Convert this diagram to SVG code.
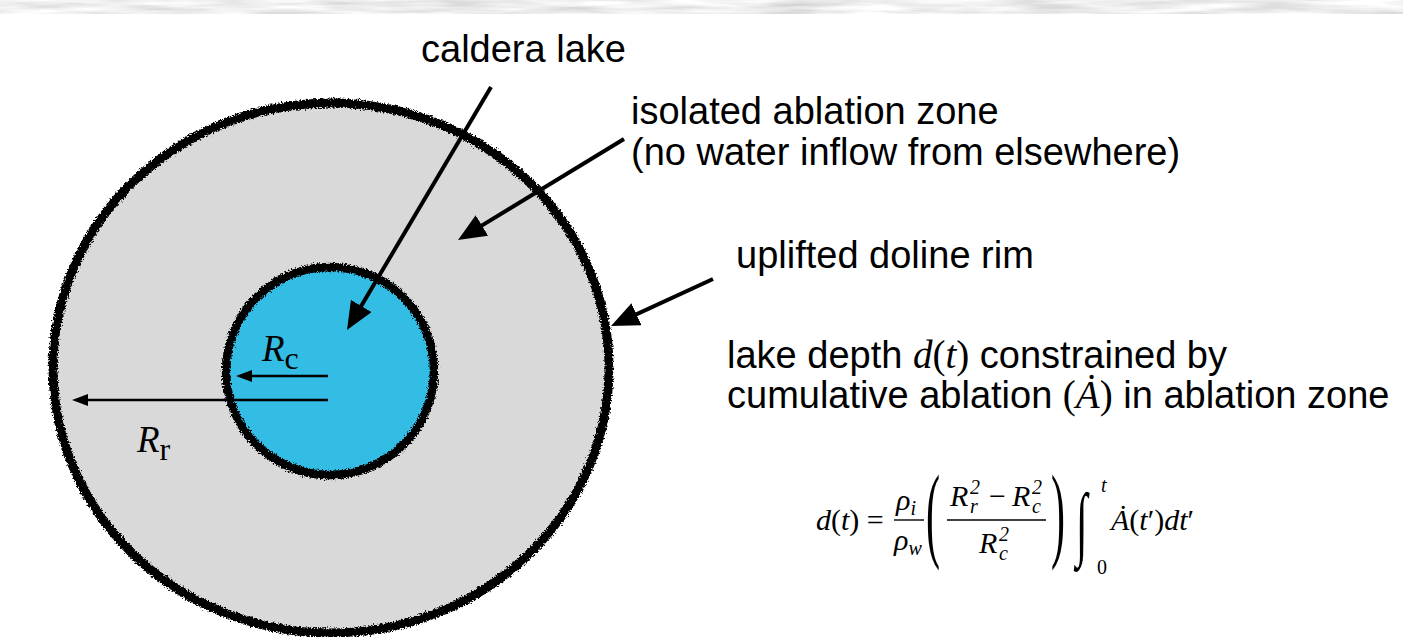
<svg xmlns="http://www.w3.org/2000/svg" width="1403" height="637" viewBox="0 0 1403 637">
<style>
.lbl{font-family:"Liberation Sans",Arial,sans-serif;font-size:38px;fill:#000}
.mi{font-family:"Liberation Serif","Times New Roman",serif;font-style:italic}
.mu{font-family:"Liberation Serif","Times New Roman",serif;font-style:normal}
.eq{font-family:"Liberation Serif","Times New Roman",serif;font-size:30px;fill:#000}
.sm{font-size:20px}
.big{stroke:#000;stroke-width:4;fill:none}
.thin{stroke:#000;stroke-width:2.6;fill:none}
</style>
<defs>
<filter id="rough" x="-5%" y="-5%" width="110%" height="110%">
<feTurbulence type="fractalNoise" baseFrequency="0.6" numOctaves="2" seed="4" result="n"/>
<feDisplacementMap in="SourceGraphic" in2="n" scale="6" xChannelSelector="R" yChannelSelector="G"/>
</filter>
<filter id="tex" x="0" y="0" width="100%" height="100%">
<feTurbulence type="fractalNoise" baseFrequency="0.012 0.15" numOctaves="3" seed="7"/>
<feColorMatrix type="matrix" values="0.6 0 0 0 0.55  0.6 0 0 0 0.55  0.6 0 0 0 0.55  0 0 0 0 1"/>
<feComposite in2="SourceGraphic" operator="in"/>
</filter>
<marker id="ah" viewBox="0 0 28 24" refX="8" refY="12" markerWidth="28" markerHeight="24" markerUnits="userSpaceOnUse" orient="auto">
<path d="M0,0 L28,12 L0,24 z" fill="#000"/>
</marker>
<marker id="ahs" viewBox="0 0 16 12" refX="4" refY="6" markerWidth="16" markerHeight="12" markerUnits="userSpaceOnUse" orient="auto">
<path d="M0,0 L16,6 L0,12 z" fill="#000"/>
</marker>
</defs>
<rect width="1403" height="637" fill="#fff"/>
<rect id="topband" x="0" y="0" width="1403" height="14" fill="#ddd" filter="url(#tex)"/>

<g id="outer-zone">
<ellipse cx="331" cy="368" rx="278" ry="265" fill="#d9d9d9"/>
<ellipse cx="331" cy="368" rx="278" ry="265" fill="none" stroke="#000" stroke-width="9" filter="url(#rough)"/>
</g>
<g id="caldera-lake">
<circle cx="330" cy="371" r="104" fill="#33bde5"/>
<circle cx="330" cy="371" r="104" fill="none" stroke="#000" stroke-width="8.5" filter="url(#rough)"/>
</g>

<g id="connectors">
<line class="big" x1="491" y1="87" x2="357.2" y2="312.8" marker-end="url(#ah)"/>
<line class="big" x1="624" y1="139" x2="475.1" y2="229.6" marker-end="url(#ah)"/>
<line class="big" x1="713" y1="279" x2="629.2" y2="317.6" marker-end="url(#ah)"/>
<line class="thin" x1="328" y1="376" x2="248" y2="376" marker-end="url(#ahs)"/>
<line class="thin" x1="328" y1="400" x2="84" y2="400" marker-end="url(#ahs)"/>
</g>

<g id="label-caldera"><text class="lbl" x="421" y="62">caldera lake</text></g>
<g id="label-isolated">
<text class="lbl" x="631" y="124">isolated ablation zone</text>
<text class="lbl" x="631" y="165">(no water inflow from elsewhere)</text>
</g>
<g id="label-rim"><text class="lbl" x="736" y="268">uplifted doline rim</text></g>
<g id="label-depth">
<text class="lbl" x="727" y="368">lake depth <tspan class="mi" font-size="39">d</tspan><tspan class="mu" font-size="39">(</tspan><tspan class="mi" font-size="39">t</tspan><tspan class="mu" font-size="39">)</tspan> constrained by</text>
<text class="lbl" x="727" y="408">cumulative ablation <tspan class="mu" font-size="39">(</tspan><tspan class="mi" font-size="39">Ȧ</tspan><tspan class="mu" font-size="39">)</tspan> in ablation zone</text>
</g>
<g id="label-Rc"><text x="262" y="361" font-size="37"><tspan class="mi">R</tspan><tspan class="mu" font-size="32" dy="8">c</tspan></text></g>
<g id="label-Rr"><text x="137" y="452" font-size="37"><tspan class="mi">R</tspan><tspan class="mu" font-size="32" dy="8">r</tspan></text></g>

<g id="equation" class="eq">
<text x="816" y="530"><tspan class="mi">d</tspan>(<tspan class="mi">t</tspan>) =</text>
<text class="mi" x="896" y="510">ρ<tspan class="sm" dy="5">i</tspan></text>
<line x1="894" y1="520" x2="924" y2="520" stroke="#000" stroke-width="1.4"/>
<text class="mi" x="894" y="550">ρ<tspan class="sm" dy="5">w</tspan></text>
<text transform="translate(926,548) scale(1,2.5)" font-size="42">(</text>
<text class="mi" x="950" y="506">R</text>
<text class="mi sm" x="970" y="494">2</text>
<text class="mi sm" x="970" y="513">r</text>
<text x="989" y="506">−</text>
<text class="mi" x="1012" y="506">R</text>
<text class="mi sm" x="1032" y="494">2</text>
<text class="mi sm" x="1032" y="513">c</text>
<line x1="947" y1="520" x2="1046" y2="520" stroke="#000" stroke-width="1.4"/>
<text class="mi" x="979" y="553">R</text>
<text class="mi sm" x="999" y="541">2</text>
<text class="mi sm" x="999" y="560">c</text>
<text transform="translate(1051,548) scale(1,2.5)" font-size="42">)</text>
<text transform="translate(1076,550) scale(1,1.95)" font-size="42">∫</text>
<text class="mi sm" x="1101" y="492">t</text>
<text class="sm" x="1097" y="574">0</text>
<text x="1111" y="530"><tspan class="mi">Ȧ</tspan>(<tspan class="mi">t</tspan>′)<tspan class="mi">dt</tspan>′</text>
</g>
</svg>
